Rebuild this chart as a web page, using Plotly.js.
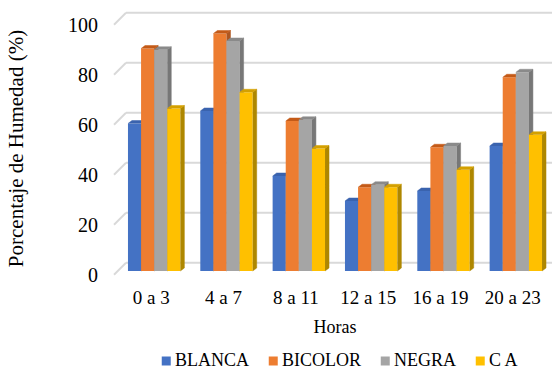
<!DOCTYPE html>
<html>
<head>
<meta charset="utf-8">
<script src="https://cdn.plot.ly/plotly-3.0.1.min.js"></script>
<style>
  html, body { margin: 0; padding: 0; background: #ffffff; }
  #chart { width: 552px; height: 370px; }
</style>
</head>
<body>
<div id="chart"></div>
<script>
// Humidity percentage by time slot for each variety
const categories = ['0 a 3', '4 a 7', '8 a 11', '12 a 15', '16 a 19', '20 a 23'];
const seriesNames = ['BLANCA', 'BICOLOR', 'NEGRA', 'C A'];
const blanca  = [59, 64, 38, 28, 32, 50];
const bicolor = [89, 95, 60, 33.5, 49.5, 77.5];
const negra   = [88.5, 92, 60.5, 34.5, 50, 79.5];
const ca      = [65, 71.5, 49, 33.5, 40.5, 54.5];
const yTicks  = [0, 20, 40, 60, 80, 100];

const seriesValues = [blanca, bicolor, negra, ca];
const palette = [
  { front: '#4472C4', top: '#3A63AE', side: '#2E5393' },
  { front: '#ED7D31', top: '#C45A17', side: '#AE5620' },
  { front: '#A5A5A5', top: '#8A8A8A', side: '#777777' },
  { front: '#FFC000', top: '#D4A000', side: '#AE8700' }
];

const FONT = 'Liberation Serif';
const W = 552, H = 370;
const M = { l: 118, r: 0, t: 10, b: 83 };
const plotW = W - M.l - M.r, plotH = H - M.t - M.b;
const yRange = [-6.4, 104.4];
const xRange = [-0.5, categories.length - 0.5];

// pixel helpers for the paper coordinate system
const pxPerX = plotW / (xRange[1] - xRange[0]);
const pxPerY = plotH / (yRange[1] - yRange[0]);
const paperX = px => (px - M.l) / plotW;
const paperY = py => (H - M.b - py) / plotH;

// bar geometry in data units, plus the pseudo-3D depth offsets
const barW = 13.1 / pxPerX;
const depthX = 4 / pxPerX;
const depthY = 3 / pxPerY;
const xIdx = categories.map((_, i) => i);

const traces = [];
seriesValues.forEach((vals, s) => {
  const sfx = s === 0 ? '' : String(s + 1);
  const xa = 'x' + sfx, ya = 'y' + sfx;
  const off = (s - 2) * barW;
  const c = palette[s];

  // front face
  traces.push({
    type: 'bar', name: seriesNames[s], x: xIdx, y: vals,
    width: barW, offset: off,
    marker: { color: c.front, line: { width: 0 } },
    xaxis: xa, yaxis: ya, showlegend: false, hoverinfo: 'skip'
  });

  // right-hand side face and top face of each column
  const sx = [], sy = [], tx = [], ty = [];
  vals.forEach((v, i) => {
    const xl = i + off, xr = xl + barW;
    sx.push(xr, xr + depthX, xr + depthX, xr, null);
    sy.push(0, depthY, v + depthY, v, null);
    tx.push(xl, xl + depthX, xr + depthX, xr, null);
    ty.push(v, v + depthY, v + depthY, v, null);
  });
  traces.push({
    type: 'scatter', mode: 'lines', x: sx, y: sy, fill: 'toself',
    fillcolor: c.side, line: { width: 0.5, color: c.side },
    xaxis: xa, yaxis: ya, showlegend: false, hoverinfo: 'skip'
  });
  traces.push({
    type: 'scatter', mode: 'lines', x: tx, y: ty, fill: 'toself',
    fillcolor: c.top, line: { width: 0.5, color: c.top },
    xaxis: xa, yaxis: ya, showlegend: false, hoverinfo: 'skip'
  });
});

// back-wall gridlines with the short diagonal floor/wall connectors
const wallShift = 3.3, frontShift = -1.5;
const shapes = [];
yTicks.forEach(v => {
  shapes.push({
    type: 'line', layer: 'below', xref: 'paper', yref: 'y',
    x0: paperX(126), x1: 1, y0: v + wallShift, y1: v + wallShift,
    line: { color: '#D9D9D9', width: 2 }
  });
  shapes.push({
    type: 'line', layer: 'below', xref: 'paper', yref: 'y',
    x0: paperX(114), x1: paperX(126), y0: v + frontShift, y1: v + wallShift,
    line: { color: '#D9D9D9', width: 2 }
  });
});

// legend: colour square followed by the series name, laid out by text width
const annotations = [];
const ctx = document.createElement('canvas').getContext('2d');
ctx.font = '18px "Liberation Serif"';
const sq = 9, sqGap = 4, itemGap = 20;
const widths = seriesNames.map(n => ctx.measureText(n).width);
const total = widths.reduce((a, w) => a + sq + sqGap + w, 0) + itemGap * (seriesNames.length - 1);
let cx = 340 - total / 2;
const legendY = 360;
seriesNames.forEach((n, s) => {
  shapes.push({
    type: 'rect', xref: 'paper', yref: 'paper',
    x0: paperX(cx), x1: paperX(cx + sq),
    y0: paperY(legendY + 1 + sq / 2), y1: paperY(legendY + 1 - sq / 2),
    fillcolor: palette[s].front, line: { width: 0 }
  });
  annotations.push({
    xref: 'paper', yref: 'paper', x: paperX(cx + sq + sqGap), y: paperY(legendY),
    xanchor: 'left', yanchor: 'middle', showarrow: false, text: n,
    borderpad: 0, borderwidth: 0,
    font: { family: FONT, size: 18, color: '#000000' }
  });
  cx += sq + sqGap + widths[s] + itemGap;
});

const hiddenX = { range: xRange, overlaying: 'x', visible: false, fixedrange: true };
const hiddenY = { range: yRange, overlaying: 'y', visible: false, fixedrange: true };

const layout = {
  width: W, height: H,
  margin: M,
  paper_bgcolor: '#ffffff', plot_bgcolor: 'rgba(0,0,0,0)',
  font: { family: FONT, size: 18, color: '#000000' },
  showlegend: false,
  barmode: 'overlay',
  xaxis: {
    range: xRange, tickvals: xIdx, ticktext: categories,
    showgrid: false, zeroline: false, showline: false, ticks: '',
    ticklabelshift: -3, ticklabelstandoff: -3,
    tickfont: { family: FONT, size: 19, color: '#000000' },
    title: { text: 'Horas', standoff: 13, font: { family: FONT, size: 18, color: '#000000' } },
    automargin: false, fixedrange: true
  },
  yaxis: {
    range: yRange, tickvals: yTicks,
    showgrid: false, zeroline: false, showline: false, ticks: '',
    ticklabelshift: 4, ticklabelstandoff: 19,
    tickfont: { family: FONT, size: 20, color: '#000000' },
    title: { text: 'Porcentaje de Humedad (%)', standoff: 38, font: { family: FONT, size: 21, color: '#000000' } },
    automargin: false, fixedrange: true
  },
  xaxis2: Object.assign({ anchor: 'y2' }, hiddenX),
  yaxis2: Object.assign({ anchor: 'x2' }, hiddenY),
  xaxis3: Object.assign({ anchor: 'y3' }, hiddenX),
  yaxis3: Object.assign({ anchor: 'x3' }, hiddenY),
  xaxis4: Object.assign({ anchor: 'y4' }, hiddenX),
  yaxis4: Object.assign({ anchor: 'x4' }, hiddenY),
  shapes: shapes,
  annotations: annotations
};

Plotly.newPlot('chart', traces, layout, { displayModeBar: false, staticPlot: true });
</script>
</body>
</html>
